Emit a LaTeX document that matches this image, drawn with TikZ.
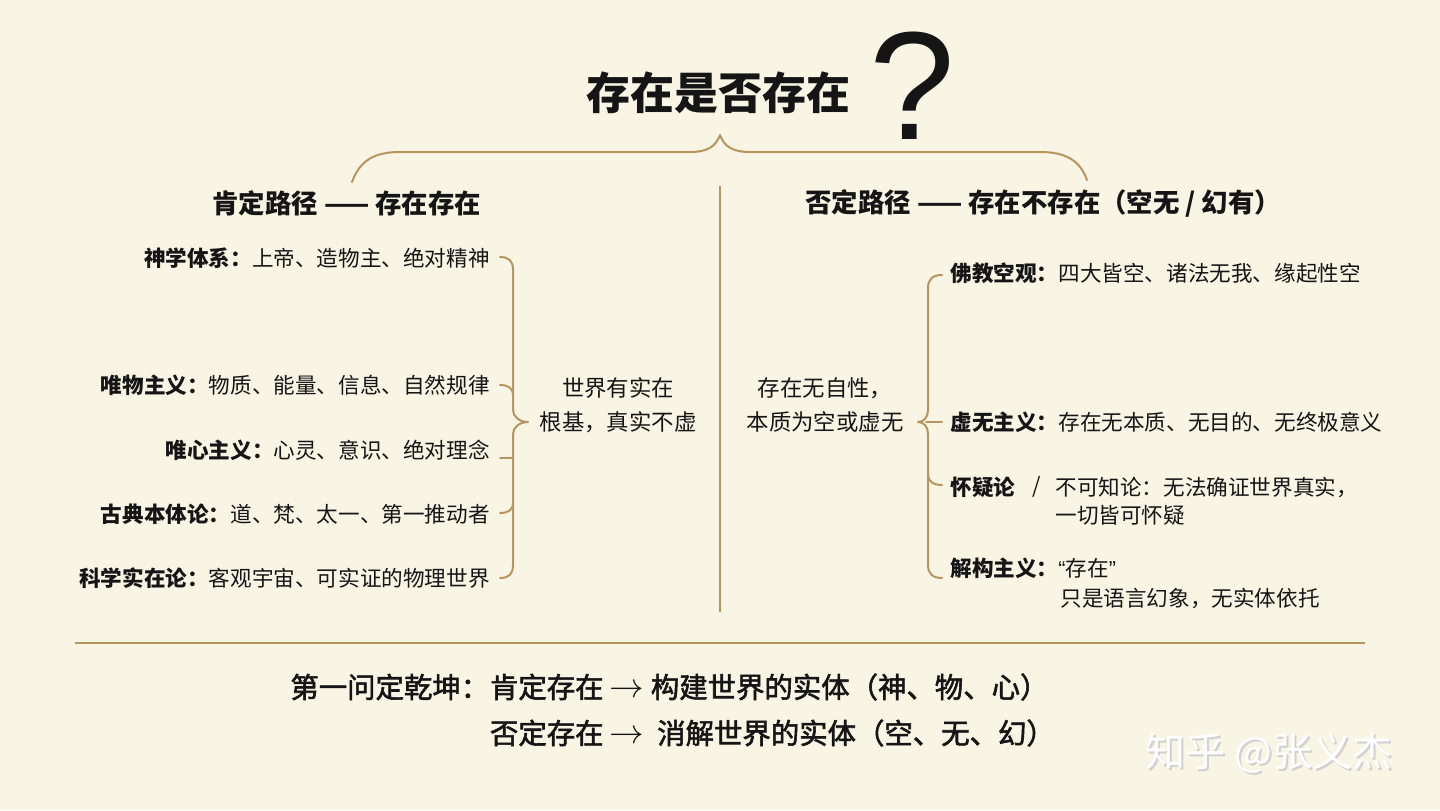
\documentclass[tikz,border=0pt]{standalone}
\usepackage{fontspec}
\setmainfont{Noto Sans CJK SC}
\newfontfamily\qfont{Liberation Sans}
\newfontfamily\medfont[FakeBold=2]{Noto Sans CJK SC}
\usetikzlibrary{positioning, calc}
\definecolor{paper}{HTML}{F8F5E5}
\definecolor{gold}{HTML}{B8945E}
\definecolor{ink}{HTML}{151515}
\newcommand{\fs}[1]{\fontsize{#1}{#1}\selectfont}
\newcommand{\toarrow}{\ {\fs{16}$\rightarrow$}\ }
\tikzset{
	brace/.style={draw=gold, line width=1pt, line cap=round, line join=round},
	rule/.style={draw=gold, line width=0.7pt},
	head/.style={font=\fs{13.2}\bfseries, anchor=west},
	item/.style={font=\fs{10.8}},
	mid/.style={font=\fontsize{11.2}{17}\selectfont, align=center},
	sumup/.style={font=\medfont\fs{14.2}, anchor=west}
}

\begin{document}
\begin{tikzpicture}[x=0.5pt, y=-0.5pt, every node/.append style={inner sep=0pt, text=ink}]
	\fill[paper] (0,0) rectangle (1440,810);
	\useasboundingbox (0,0) rectangle (1440,810);
	% title
	\node[font=\fs{22}\bfseries] (title) at (718,93) {存在是否存在};
	\node[font=\qfont\fs{77}] (quest) at (912,86) {?};
	\draw[brace] (352,182) .. controls (360,160) and (375,152) .. (400,152) -- (690,152)
		.. controls (708,152) and (716,146) .. (720,135) .. controls (724,146) and (732,152) .. (750,152)
		-- (1040,152) .. controls (1065,152) and (1080,160) .. (1087,180);
	% two paths
	\node[head] (pos) at (212,203) {肯定路径 —— 存在存在};
	\node[head] (neg) at (805,203) {否定路径 —— 存在不存在（空无 / 幻有）};
	\draw[rule] (720,186) -- (720,612);
	% left side
	\foreach \y/\lab/\txt/\nm in {258/神学体系/上帝、造物主、绝对精神/th,
			385/唯物主义/物质、能量、信息、自然规律/wu,
			450/唯心主义/心灵、意识、绝对理念/wx,
			514/古典本体论/道、梵、太一、第一推动者/gd,
			578/科学实在论/客观宇宙、可实证的物理世界/kx}
		\node[item, anchor=east] (\nm) at (490,\y) {\textbf{\lab：}\txt};
	\draw[brace] (500,257) .. controls (509,257) and (513,261) .. (513,270) -- (513,410)
		.. controls (513,417) and (520,422) .. (528,422) .. controls (520,422) and (513,427) .. (513,434)
		-- (513,565) .. controls (513,574) and (509,578) .. (500,578);
	\draw[brace] (500,385) .. controls (508,385) and (513,388) .. (513,395);
	\draw[brace] (500,458) -- (513,458);
	\draw[brace] (500,513) .. controls (508,513) and (513,510) .. (513,503);
	\node[mid] (real) at (618,405) {世界有实在\\根基，真实不虚};
	% right side
	\node[mid] (void) at (825,405) {存在无自性，\\本质为空或虚无};
	\draw[brace] (942,275) .. controls (933,275) and (928,279) .. (928,288) -- (928,410)
		.. controls (928,417) and (924,422) .. (918,422) .. controls (924,422) and (928,427) .. (928,434)
		-- (928,565) .. controls (928,574) and (933,578) .. (942,578);
	\draw[brace] (926,422) -- (942,422);
	\draw[brace] (928,475) .. controls (928,481) and (933,485) .. (942,485);
	\node[item, anchor=west] (fj) at (950,273) {\textbf{佛教空观：}四大皆空、诸法无我、缘起性空};
	\node[item, anchor=west] (xw) at (950,422) {\textbf{虚无主义：}存在无本质、无目的、无终极意义};
	\node[item, anchor=west] (hy) at (950,487) {\textbf{怀疑论}};
	\node[item] (slash) at (1037,487) {/};
	\node[item, anchor=west] (bk) at (1055,487) {不可知论：无法确证世界真实，};
	\node[item, anchor=west] (bk2) at (1055,515) {一切皆可怀疑};
	\node[item, anchor=west] (jg) at (950,568) {\textbf{解构主义：}{\qfont“}存在{\qfont”}};
	\node[item, anchor=west] (jg2) at (1060,598) {只是语言幻象，无实体依托};
	% conclusion
	\draw[rule] (75,643) -- (1365,643);
	\node[sumup] (first) at (290,687) {第一问定乾坤：};
	\node[sumup, right=0pt of first] (yes) {肯定存在\toarrow 构建世界的实体（神、物、心）};
	\node[sumup] (no) at ($(yes.west)+(0,46)$) {否定存在\toarrow\ 消解世界的实体（空、无、幻）};
	% watermark
	\node[font=\fs{20}, text=black!18] at (1271,755) {知乎 @张义杰};
	\node[font=\fs{20}, text=white] (mark) at (1269,753) {知乎 @张义杰};
\end{tikzpicture}
\end{document}
